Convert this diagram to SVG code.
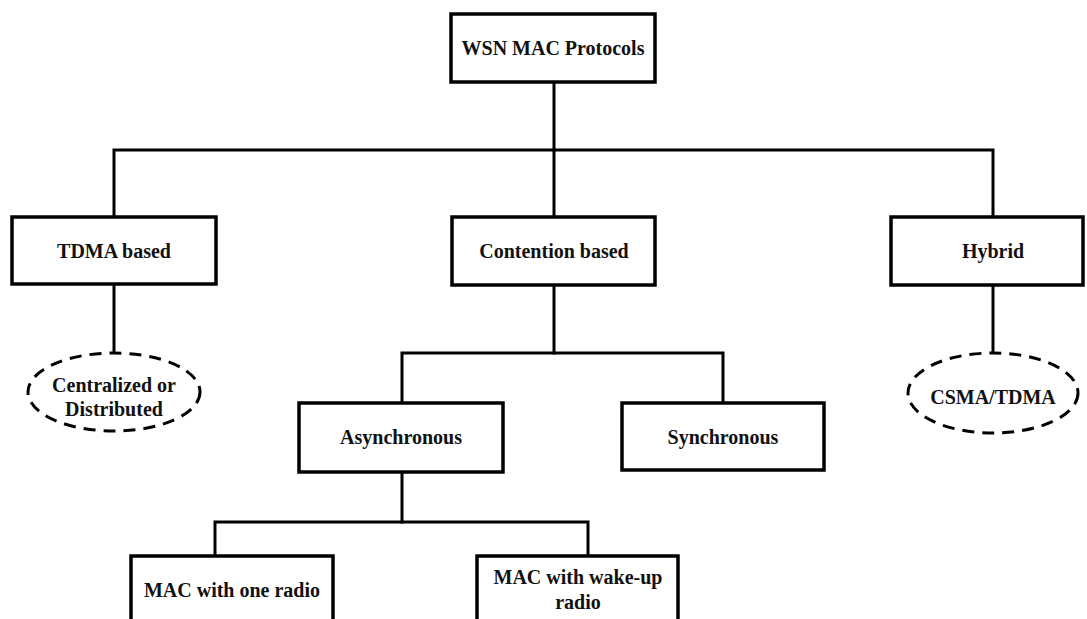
<svg xmlns="http://www.w3.org/2000/svg" width="1087" height="619" viewBox="0 0 1087 619">
  <style>
    .box { fill: #ffffff; stroke: #000000; stroke-width: 3.5; }
    .oval { fill: #ffffff; stroke: #000000; stroke-width: 3; stroke-dasharray: 12 8; }
    .link { fill: none; stroke: #000000; stroke-width: 3; stroke-linejoin: miter; stroke-linecap: square; }
    .label { font-family: "Liberation Serif", "Times New Roman", serif; font-weight: bold; font-size: 20px; fill: #111111; text-anchor: middle; }
  </style>
  <rect width="1087" height="619" fill="#ffffff"/>

  <g id="connectors">
    <path class="link" d="M554 82 V150"/>
    <path class="link" d="M114 217 V150 H993 V217"/>
    <path class="link" d="M554 150 V217"/>
    <path class="link" d="M114 285 V353"/>
    <path class="link" d="M993 285 V353"/>
    <path class="link" d="M554 285 V353"/>
    <path class="link" d="M402 403 V353 H723 V403"/>
    <path class="link" d="M402 472 V522"/>
    <path class="link" d="M215 556 V522 H588 V556"/>
  </g>

  <g id="root">
    <rect class="box" x="451" y="14" width="204" height="68"/>
    <text class="label" x="553" y="55">WSN MAC Protocols</text>
  </g>

  <g id="tdma">
    <rect class="box" x="12" y="217" width="204" height="67"/>
    <text class="label" x="114" y="258">TDMA based</text>
  </g>

  <g id="contention">
    <rect class="box" x="452" y="217" width="203" height="68"/>
    <text class="label" x="554" y="258">Contention based</text>
  </g>

  <g id="hybrid">
    <rect class="box" x="891" y="217" width="192" height="68"/>
    <text class="label" x="993" y="258">Hybrid</text>
  </g>

  <g id="tdma-kind">
    <ellipse class="oval" cx="114" cy="392" rx="86" ry="39"/>
    <text class="label" x="114" y="392">Centralized or</text>
    <text class="label" x="114" y="416">Distributed</text>
  </g>

  <g id="hybrid-kind">
    <ellipse class="oval" cx="993" cy="393" rx="85" ry="40"/>
    <text class="label" x="993" y="404">CSMA/TDMA</text>
  </g>

  <g id="asynchronous">
    <rect class="box" x="299" y="403" width="204" height="69"/>
    <text class="label" x="401" y="444">Asynchronous</text>
  </g>

  <g id="synchronous">
    <rect class="box" x="622" y="403" width="202" height="67"/>
    <text class="label" x="723" y="444">Synchronous</text>
  </g>

  <g id="one-radio">
    <rect class="box" x="131" y="556" width="202" height="70"/>
    <text class="label" x="232" y="597">MAC with one radio</text>
  </g>

  <g id="wake-up-radio">
    <rect class="box" x="477" y="556" width="201" height="70"/>
    <text class="label" x="578" y="584">MAC with wake-up</text>
    <text class="label" x="578" y="609">radio</text>
  </g>
</svg>
